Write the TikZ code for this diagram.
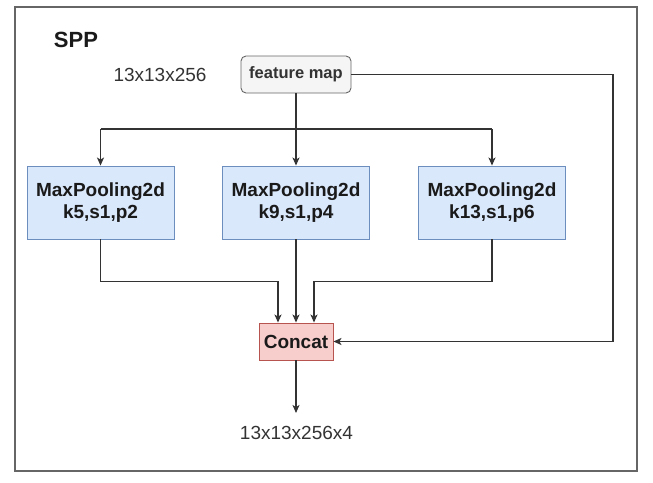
\documentclass[tikz,border=0pt]{standalone}
\usepackage{fontspec}
\setmainfont{Liberation Sans}
\usetikzlibrary{arrows.meta, positioning}

\definecolor{poolfill}{HTML}{DAE8FC}
\definecolor{pooldraw}{HTML}{6C8EBF}
\definecolor{catfill}{HTML}{F8CECC}
\definecolor{catdraw}{HTML}{B85450}
\definecolor{mapfill}{HTML}{F5F5F5}
\definecolor{mapdraw}{HTML}{666666}
\definecolor{wire}{HTML}{333333}
\definecolor{ink}{HTML}{1A1A1A}

\tikzset{
    poolbox/.style={draw=pooldraw, fill=poolfill, line width=0.9pt, minimum width=147pt,
        minimum height=73pt, inner sep=0pt, align=center, text=ink,
        font=\fontsize{19}{22}\selectfont\bfseries},
    catbox/.style={draw=catdraw, fill=catfill, line width=0.9pt, minimum width=74pt,
        minimum height=37pt, inner sep=0pt, text=ink,
        font=\fontsize{19}{22}\selectfont\bfseries},
    mapbox/.style={draw=mapdraw, fill=mapfill, rounded corners=5pt, line width=0.9pt,
        minimum width=110pt, minimum height=37pt, inner sep=0pt, text=wire,
        font=\fontsize{16.5}{18}\selectfont\bfseries},
    dimlabel/.style={text=wire, inner sep=0pt, font=\fontsize{19}{22}\selectfont},
    wireline/.style={draw=wire, line width=1.2pt},
    flow/.style={wireline, -{Stealth[length=8pt, width=7pt, inset=2pt]}},
}

\begin{document}
\begin{tikzpicture}[x=1pt, y=-1pt]
    \useasboundingbox (0,0) rectangle (653,482);
    \draw[draw=mapdraw, line width=1.4pt] (15,7) rectangle (637,471);
    \node[at={(76,40)}, text=ink, inner sep=0pt, font=\fontsize{22}{24}\selectfont\bfseries] (title) {SPP};

    % input
    \node[mapbox, at={(296,74.5)}] (fmap) {feature map};
    \node[dimlabel, at={(160,75)}] (indim) {13x13x256};

    % three pooling branches
    \node[poolbox, at={(100.5,202.5)}] (pool1) {MaxPooling2d\\k5,s1,p2};
    \node[poolbox, at={(296,202.5)}] (pool2) {MaxPooling2d\\k9,s1,p4};
    \node[poolbox, at={(492,202.5)}] (pool3) {MaxPooling2d\\k13,s1,p6};

    \node[catbox, at={(296,341.5)}] (concat) {Concat};
    \coordinate (outend) at (296,413);
    \node[dimlabel, at={(296.5,433)}] (outdim) {13x13x256x4};

    \coordinate (split) at (296,129);
    \coordinate (skip) at (613,200);

    % fan out
    \draw[flow] (fmap.south) -- (pool2.north);
    \draw[wireline] (split -| pool1.north) -- (split -| pool3.north);
    \draw[flow] (split -| pool1.north) -- (pool1.north);
    \draw[flow] (split -| pool3.north) -- (pool3.north);

    % merge
    \draw[flow] (pool1.south) -- ++(0,42) -| ([xshift=-18pt]concat.north);
    \draw[flow] (pool2.south) -- (concat.north);
    \draw[flow] (pool3.south) -- ++(0,42) -| ([xshift=18pt]concat.north);
    \draw[flow] (fmap.east) -| (skip) |- (concat.east);
    \draw[flow] (concat.south) -- (outend);
\end{tikzpicture}
\end{document}
